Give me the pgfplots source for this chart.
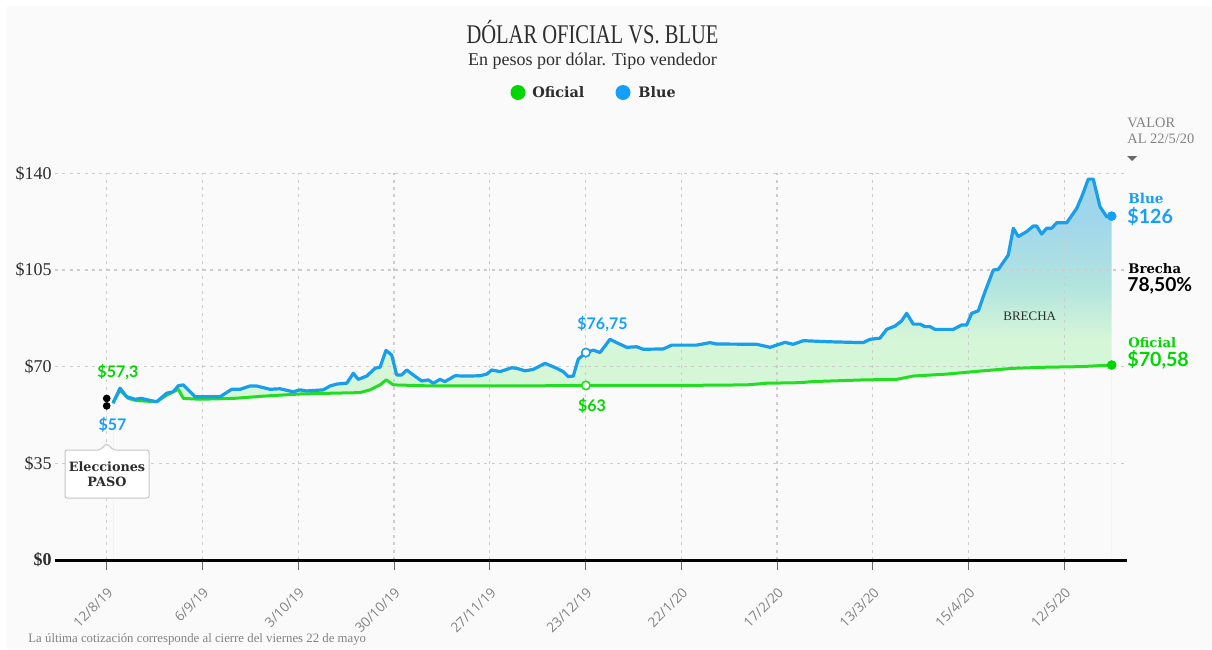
\documentclass[border=0pt]{standalone}
\usepackage{pgfplots}
\pgfplotsset{compat=1.18}
\usepackage{pgfplotstable}
\usepackage{graphicx}
\usepackage{fontspec}
\setmainfont{Liberation Serif}
\newfontfamily\slab{DejaVu Serif}
\newfontfamily\lato{Lato}
\newfontfamily\osans{Open Sans}

\definecolor{ofi}{RGB}{34,221,34}
\definecolor{blu}{RGB}{24,158,234}
\definecolor{dotgreen}{RGB}{0,215,0}
\definecolor{dotblue}{RGB}{20,160,250}
\definecolor{fillT}{RGB}{160,214,236}
\definecolor{fillM}{RGB}{178,228,222}
\definecolor{fillB}{RGB}{214,246,216}
\definecolor{gridc}{RGB}{205,205,205}
\definecolor{txt}{RGB}{45,45,45}
\definecolor{tickc}{RGB}{130,130,130}
\definecolor{panel}{RGB}{250,250,250}

% gap shading: green up to about $80, teal near $100, blue from about $125
\pgfdeclareverticalshading{brecha}{100bp}{color(0bp)=(fillB); color(54bp)=(fillB); color(61bp)=(fillM); color(70bp)=(fillT); color(100bp)=(fillT)}

% blue (parallel) rate, x in tenths of a tick step
\pgfplotstableread{
x y
0.66 56.7
1.39 62.2
2.09 59.1
2.95 58.2
3.65 58.5
4.34 57.9
5.22 57.3
6.27 60.4
6.95 60.9
7.48 63.1
8.00 63.4
9.22 59.1
10.44 59.1
11.83 59.1
13.05 61.8
13.92 61.8
14.97 63.0
15.66 63.0
17.05 61.8
18.10 62.0
19.48 60.9
20.18 61.6
20.88 61.2
22.62 61.6
23.32 63.0
24.02 63.7
25.06 64.0
25.75 67.6
26.27 65.4
27.15 66.6
28.02 69.4
28.54 69.8
29.16 75.9
29.76 74.2
30.28 67.0
30.80 67.0
31.33 68.8
32.01 67.0
32.89 64.8
33.58 65.2
34.10 64.0
34.80 65.4
35.32 64.6
36.37 66.7
37.59 66.6
38.98 66.7
39.68 67.3
40.20 68.8
41.07 68.2
42.29 69.6
42.81 69.4
43.68 68.5
44.54 69.0
45.77 71.2
46.99 69.4
47.68 68.2
48.20 66.4
48.72 66.6
49.24 72.7
50.04 75.1
50.81 76.0
51.51 75.1
52.55 79.9
53.25 78.7
54.30 77.0
55.34 77.2
56.03 76.3
58.12 76.4
59.00 77.8
61.61 77.8
62.99 78.7
63.69 78.2
67.87 78.1
69.26 77.0
70.83 78.8
71.69 78.1
72.74 79.4
75.52 79.0
79.00 78.7
79.70 79.9
80.74 80.3
81.45 83.5
82.31 84.7
83.01 86.6
83.53 89.3
84.22 85.4
84.92 85.4
85.44 84.5
85.97 84.5
86.49 83.5
88.40 83.5
89.28 85.1
89.80 85.1
90.32 89.3
91.01 90.2
91.71 97.1
92.58 105.0
93.10 105.2
94.14 110.4
94.67 120.1
95.19 117.1
96.06 118.9
96.75 120.9
97.11 120.9
97.63 118.0
98.15 120.1
98.67 120.1
99.20 122.1
100.24 122.1
101.29 127.3
101.81 131.5
102.50 137.9
103.02 137.9
103.72 127.9
104.42 124.3
104.94 124.5
}\bluetab

% official rate
\pgfplotstableread{
x y
0.69 57.3
1.39 61.5
2.26 58.5
3.13 57.7
5.22 57.3
6.27 59.7
6.95 60.9
7.48 61.8
8.00 58.5
9.74 58.2
13.22 58.5
16.71 59.4
20.18 60.1
23.66 60.4
26.45 60.6
27.49 61.6
28.54 63.4
29.19 65.2
29.93 63.4
34.10 63.0
42.46 63.0
50.04 63.2
59.86 63.2
66.83 63.4
68.92 64.0
72.39 64.2
73.78 64.6
79.00 65.2
82.49 65.4
84.22 66.6
87.71 67.3
91.19 68.4
94.67 69.4
98.15 69.8
101.63 70.0
104.94 70.58
}\ofitab

\begin{document}
\begin{tikzpicture}
\begin{axis}[
  at={(27.5pt,-280pt)}, anchor=south west,
  scale only axis, width=536pt, height=193.35pt,
  xmin=-5.4, xmax=106.54, ymin=0, ymax=140,
  clip=false, set layers,
  axis x line*=bottom, axis y line*=left,
  x axis line style={line width=1.5pt, black, -},
  y axis line style={draw=none},
  xtick={0,10,20,30,40,50,60,70,80,90,100},
  xticklabels={12/8/19,6/9/19,3/10/19,30/10/19,27/11/19,23/12/19,22/1/20,17/2/20,13/3/20,15/4/20,12/5/20},
  ytick={0,35,70,105,140},
  yticklabels={\textbf{\$0},\$35,\$70,\$105,\$140},
  tick align=outside, major tick length=5pt,
  xtick style={draw=tickc!80!black, line width=0.5pt},
  ytick style={draw=none},
  % shifts act in the rotated frame of the label
  xticklabel style={rotate=45, anchor=east, font=\osans\fontsize{6.8}{8}\selectfont, text=tickc, inner sep=0pt, xshift=-5.7pt, yshift=-8.4pt},
  yticklabel style={font=\fontsize{9}{10}\selectfont, text=txt, anchor=east, inner sep=0pt, xshift=3.5pt},
  grid=major,
  grid style={gridc, line width=0.6pt, dash pattern=on 1.5pt off 2.2pt},
]
% page panel, kept beneath everything
\begin{pgfonlayer}{axis background}
\fill[panel] (rel axis cs:-0.0448,-0.2302) rectangle (rel axis cs:1.0793,1.4326);
\end{pgfonlayer}
% gap area: shaded under the blue line, then blanked under the official line
\addplot[on layer=axis background, draw=none, shading=brecha] table {\bluetab} \closedcycle;
\addplot[on layer=axis background, draw=none, fill=panel] table {\ofitab} \closedcycle;

\addplot[ofi, line width=1.5pt, line join=round] table {\ofitab};
\addplot[blu, line width=1.6pt, line join=round] table {\bluetab};

% start points (PASO)
\addplot[only marks, mark=*, black, mark size=1.7pt] coordinates {(0,58.5) (0,55.8)};
% 23/12 marks
\addplot[only marks, mark=*, mark size=2.1pt, mark options={fill=white, draw=blu, line width=0.8pt}] coordinates {(50.04,75.1)};
\addplot[only marks, mark=*, mark size=2.1pt, mark options={fill=white, draw=ofi, line width=0.8pt}] coordinates {(50.04,63.2)};
% last values
\addplot[only marks, mark=*, mark size=2.2pt, dotblue] coordinates {(104.94,124.5)};
\addplot[only marks, mark=*, mark size=2.2pt, dotgreen] coordinates {(104.94,70.58)};

\node[font=\lato\bfseries\fontsize{8}{9}\selectfont, text=dotgreen] at (axis cs:1.17,68.1) {\$57,3};
\node[font=\lato\bfseries\fontsize{8}{9}\selectfont, text=dotblue] at (axis cs:0.61,48.9) {\$57};
\node[font=\lato\bfseries\fontsize{8}{9}\selectfont, text=dotblue] at (axis cs:51.77,85.3) {\$76,75};
\node[font=\lato\bfseries\fontsize{8}{9}\selectfont, text=dotgreen] at (axis cs:50.67,55.8) {\$63};
\node[font=\fontsize{6.5}{7}\selectfont, text=txt] at (axis cs:96.38,88.2) {BRECHA};
\end{axis}

\begin{scope}[x=0.5pt,y=-0.5pt]
% title, subtitle, legend
\node[anchor=base, text=txt] at (592.5,43) {\scalebox{0.76}[1]{\fontsize{13.5}{16}\selectfont DÓLAR OFICIAL VS. BLUE}};
\node[anchor=base, text=txt, font=\fontsize{9}{10}\selectfont] at (592.5,65) {En pesos por dólar. Tipo vendedor};
\fill[dotgreen] (518,92.5) circle (7.5);
\node[anchor=base west, inner sep=0pt, font=\slab\bfseries\fontsize{7.2}{8}\selectfont, text=txt] at (532,97) {Oficial};
\fill[dotblue] (623,92.5) circle (7.5);
\node[anchor=base west, inner sep=0pt, font=\slab\bfseries\fontsize{7.2}{8}\selectfont, text=txt] at (638,97) {Blue};

% right-hand labels
\node[anchor=base west, inner sep=0pt, text=tickc, font=\fontsize{7.2}{8}\selectfont] at (1127,127) {VALOR};
\node[anchor=base west, inner sep=0pt, text=tickc, font=\fontsize{7.2}{8}\selectfont] at (1127,143) {AL 22/5/20};
\fill[tickc!80!black] (1127,156) -- (1137,156) -- (1132,161) -- cycle;
\node[anchor=base west, inner sep=0pt, text=dotblue, font=\slab\bfseries\fontsize{6.8}{8}\selectfont] at (1128,203) {Blue};
\node[anchor=base west, inner sep=0pt, text=dotblue, font=\lato\bfseries\fontsize{9.8}{11}\selectfont] at (1127,223) {\$126};
\node[anchor=base west, inner sep=0pt, text=black, font=\slab\bfseries\fontsize{6.6}{8}\selectfont] at (1128,273) {Brecha};
\node[anchor=base west, inner sep=0pt, text=black, font=\lato\bfseries\fontsize{9.6}{11}\selectfont] at (1127,291) {78,50\%};
\node[anchor=base west, inner sep=0pt, text=dotgreen, font=\slab\bfseries\fontsize{6.6}{8}\selectfont] at (1128,347) {Oficial};
\node[anchor=base west, inner sep=0pt, text=dotgreen, font=\lato\bfseries\fontsize{9.8}{11}\selectfont] at (1127,366) {\$70,58};

% PASO callout
\draw[gray!45, fill=white, line width=0.5pt, rounded corners=1pt]
  (65,450) -- (100,450) -- (106.7,443.5) -- (113.4,450) -- (149,450) -- (149,498) -- (65,498) -- cycle;
\node[font=\slab\bfseries\fontsize{6.4}{7}\selectfont, text=txt] at (107,467) {Elecciones};
\node[font=\slab\bfseries\fontsize{6.4}{7}\selectfont, text=txt] at (107,482) {PASO};

% footer
\node[anchor=base west, inner sep=0pt, text=tickc, font=\fontsize{6.4}{7}\selectfont] at (28,642) {La última cotización corresponde al cierre del viernes 22 de mayo};
\end{scope}
\pgfresetboundingbox
\path[use as bounding box] (0,0) rectangle (606pt,-324.5pt);
\end{tikzpicture}
\end{document}
